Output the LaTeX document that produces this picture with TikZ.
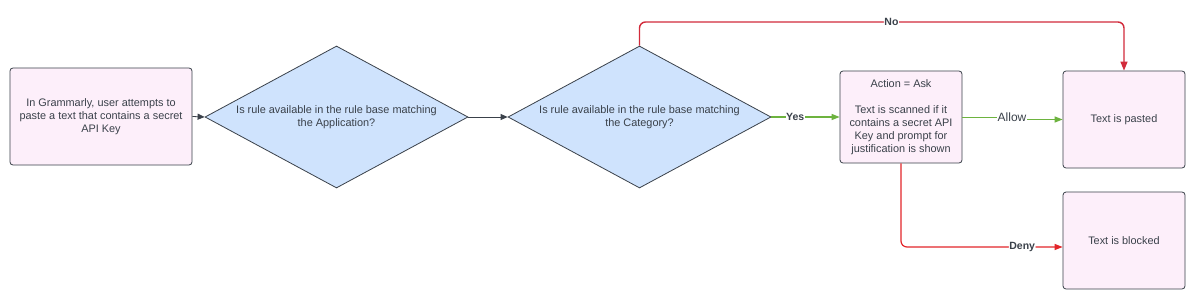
\documentclass[tikz,border=0pt]{standalone}
\usepackage{fontspec}
\setmainfont{Liberation Sans}
\usetikzlibrary{shapes.geometric,arrows.meta}
\definecolor{boxfill}{HTML}{FDEFFA}
\definecolor{dfill}{HTML}{CFE3FD}
\definecolor{edge}{HTML}{3A414A}
\definecolor{gr}{HTML}{6DB33F}
\definecolor{rd}{HTML}{D22B3B}
\definecolor{rd2}{HTML}{E3262A}
\begin{document}
\begin{tikzpicture}[x=1pt,y=-1pt,
  font=\fontsize{10.9}{13}\selectfont,
  every node/.append style={text=edge},
  pbox/.style={draw=edge,fill=boxfill,rounded corners=3pt,line width=0.8pt,align=center},
  dia/.style={diamond,draw=edge,fill=dfill,line width=0.8pt,minimum width=263pt,minimum height=142pt,shape aspect=1.85,inner sep=0pt,align=center},
  conn/.style={draw=edge,line width=0.8pt,-{Triangle[length=7pt,width=6pt]}},
  gconn/.style={draw=gr,line width=1.2pt,-{Triangle[length=8pt,width=6pt]}},
  rconn/.style={draw=rd,line width=1.4pt,rounded corners=6pt,-{Triangle[length=9pt,width=7pt]}},
  r2conn/.style={draw=rd2,line width=1.2pt,rounded corners=6pt,-{Triangle[length=8pt,width=6pt]}},
  lbl/.style={fill=white,inner sep=0.5pt,font=\fontsize{10.5}{11}\selectfont\bfseries}]
\useasboundingbox[fill=white] (0,0) rectangle (1192,297);

\node[pbox,minimum width=182pt,minimum height=97pt] (start) at (101,116.5)
  {In Grammarly, user attempts to\\paste a text that contains a secret\\API Key};
\node[dia] (d1) at (336.5,117) {Is rule available in the rule base matching\\the Application?};
\node[dia] (d2) at (639.5,117) {Is rule available in the rule base matching\\the Category?};
\node[pbox,minimum width=122pt,minimum height=92pt] (ask) at (901,117)
  {Action = Ask\\[13pt]Text is scanned if it\\contains a secret API\\Key and prompt for\\justification is shown};
\node[pbox,minimum width=122pt,minimum height=97pt] (pasted) at (1124,119.5) {Text is pasted};
\node[pbox,minimum width=122pt,minimum height=97pt] (blocked) at (1124,240.5) {Text is blocked};

\draw[conn] (start.east) -- (d1.west);
\draw[conn] (d1.east) -- (d2.west);
\draw[gconn] (d2.east) -- node[lbl,pos=0.35]{Yes} (ask.west);
\draw[rconn] (d2.north) -- (639.5,22) -- node[lbl,pos=0.52]{No} (pasted.north |- 0,22) -- (pasted.north);
\coordinate (al) at (1012,117);
\draw[draw=gr,line width=0.8pt] (ask.east) -- (al);
\draw[gconn] (1012,119.5) -- (pasted.west);
\node[fill=white,inner sep=0.5pt,font=\fontsize{12}{13}\selectfont] (allow) at (al) {Allow};
\coordinate (dn) at (blocked.west |- 0,247);
\draw[r2conn] (ask.south) -- (901,247) -- node[lbl,pos=0.75]{Deny} (dn);
\end{tikzpicture}
\end{document}
